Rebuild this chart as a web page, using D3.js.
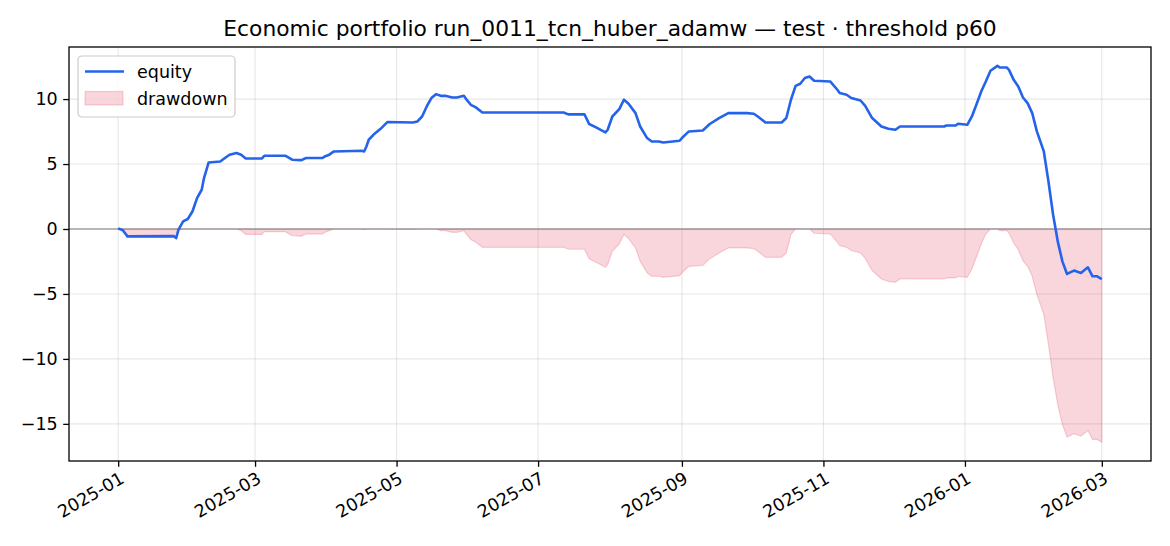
<!DOCTYPE html>
<html>
<head>
<meta charset="utf-8">
<script src="https://cdn.jsdelivr.net/npm/d3@7"></script>
<style>
  body { margin: 0; background: #fff; }
  text { font-family: "DejaVu Sans", sans-serif; }
</style>
</head>
<body>
<div id="chart"></div>
<script>
const title = "Economic portfolio run_0011_tcn_huber_adamw — test · threshold p60";
const seriesNames = ["equity", "drawdown"];

const dates = [
  "2025-01-01","2025-01-03","2025-01-05","2025-01-25","2025-01-26","2025-01-27","2025-01-29","2025-01-31",
  "2025-02-02","2025-02-04","2025-02-06","2025-02-07","2025-02-09","2025-02-14","2025-02-16","2025-02-18",
  "2025-02-21","2025-02-23","2025-02-25","2025-03-04","2025-03-05","2025-03-14","2025-03-17","2025-03-21",
  "2025-03-23","2025-03-30","2025-03-31","2025-04-02","2025-04-04","2025-04-16","2025-04-17","2025-04-18",
  "2025-04-19","2025-04-21","2025-04-24","2025-04-27","2025-05-08","2025-05-10","2025-05-12","2025-05-14",
  "2025-05-16","2025-05-18","2025-05-20","2025-05-22","2025-05-25","2025-05-27","2025-05-30","2025-05-31",
  "2025-06-02","2025-06-04","2025-06-07","2025-07-12","2025-07-14","2025-07-21","2025-07-22","2025-07-23",
  "2025-07-26","2025-07-30","2025-07-31","2025-08-02","2025-08-05","2025-08-07","2025-08-09","2025-08-12",
  "2025-08-14","2025-08-17","2025-08-19","2025-08-22","2025-08-24","2025-08-31","2025-09-01","2025-09-04",
  "2025-09-10","2025-09-13","2025-09-17","2025-09-21","2025-09-29","2025-10-02","2025-10-04","2025-10-07",
  "2025-10-14","2025-10-16","2025-10-18","2025-10-20","2025-10-22","2025-10-24","2025-10-26","2025-10-28",
  "2025-11-04","2025-11-07","2025-11-08","2025-11-11","2025-11-13","2025-11-17","2025-11-19","2025-11-22",
  "2025-11-26","2025-11-29","2025-12-02","2025-12-04","2025-12-23","2025-12-24","2025-12-28","2025-12-29",
  "2026-01-02","2026-01-04","2026-01-07","2026-01-08","2026-01-10","2026-01-12","2026-01-15","2026-01-16",
  "2026-01-19","2026-01-20","2026-01-22","2026-01-24","2026-01-26","2026-01-28","2026-01-30","2026-02-01",
  "2026-02-04","2026-02-06","2026-02-08","2026-02-10","2026-02-12","2026-02-14","2026-02-17","2026-02-20",
  "2026-02-23","2026-02-25","2026-02-27","2026-03-01"
];

const equity = [
  0.05,-0.10,-0.57,-0.55,-0.70,-0.05,0.58,0.77,
  1.35,2.38,3.02,3.92,5.12,5.20,5.46,5.72,
  5.85,5.72,5.43,5.43,5.64,5.64,5.33,5.30,
  5.46,5.46,5.58,5.72,5.97,6.02,5.97,6.35,
  6.87,7.25,7.69,8.23,8.20,8.28,8.66,9.43,
  10.08,10.38,10.25,10.25,10.12,10.12,10.25,10.00,
  9.56,9.38,8.97,8.97,8.82,8.82,8.46,8.08,
  7.82,7.43,7.64,8.66,9.23,9.95,9.64,8.92,
  7.89,7.00,6.74,6.74,6.66,6.79,7.00,7.51,
  7.58,8.08,8.54,8.92,8.92,8.87,8.62,8.20,
  8.20,8.54,9.95,11.02,11.18,11.62,11.74,11.41,
  11.35,10.72,10.46,10.33,10.08,9.89,9.48,8.54,
  7.89,7.71,7.64,7.89,7.89,7.97,7.97,8.10,
  8.02,8.66,10.08,10.58,11.35,12.18,12.56,12.43,
  12.43,12.25,11.48,10.97,10.12,9.69,8.92,7.51,
  5.97,3.66,1.10,-0.95,-2.49,-3.46,-3.20,-3.38,
  -2.95,-3.64,-3.64,-3.85
];

const drawdown = [
  0,-0.15,-0.62,-0.60,-0.75,-0.10,0,0,
  0,0,0,0,0,0,0,0,
  0,-0.13,-0.42,-0.42,-0.21,-0.21,-0.52,-0.55,
  -0.39,-0.39,-0.27,-0.13,0,0,-0.05,0,
  0,0,0,0,-0.03,0,0,0,
  0,0,-0.13,-0.13,-0.26,-0.26,-0.13,-0.38,
  -0.82,-1.00,-1.41,-1.41,-1.56,-1.56,-1.92,-2.30,
  -2.56,-2.95,-2.74,-1.72,-1.15,-0.43,-0.74,-1.46,
  -2.49,-3.38,-3.64,-3.64,-3.72,-3.59,-3.38,-2.87,
  -2.80,-2.30,-1.84,-1.46,-1.46,-1.51,-1.76,-2.18,
  -2.18,-1.84,-0.43,0,0,0,0,-0.33,
  -0.39,-1.02,-1.28,-1.41,-1.66,-1.85,-2.26,-3.20,
  -3.85,-4.03,-4.10,-3.85,-3.85,-3.77,-3.77,-3.64,
  -3.72,-3.08,-1.66,-1.16,-0.39,0,0,-0.13,
  -0.13,-0.31,-1.08,-1.59,-2.44,-2.87,-3.64,-5.05,
  -6.59,-8.90,-11.46,-13.51,-15.05,-16.02,-15.76,-15.94,
  -15.51,-16.20,-16.20,-16.41
];

const xTickLabels = ["2025-01","2025-03","2025-05","2025-07","2025-09","2025-11","2026-01","2026-03"];
const yTickValues = [-15, -10, -5, 0, 5, 10];

class EquityChart {
    constructor(_config, _data) {
        this.config = {
            parentElement: _config.parentElement,
            containerWidth: _config.containerWidth || 1170,
            containerHeight: _config.containerHeight || 546,
            margin: _config.margin || {top: 47, right: 19, bottom: 85, left: 69}
        };
        this.data = _data;
        this.initVis();
    }

    initVis() {
        let vis = this;

        vis.width = vis.config.containerWidth - vis.config.margin.left - vis.config.margin.right;
        vis.height = vis.config.containerHeight - vis.config.margin.top - vis.config.margin.bottom;

        vis.svg = d3.select(vis.config.parentElement)
            .append('svg')
            .attr('width', vis.config.containerWidth)
            .attr('height', vis.config.containerHeight);

        vis.chart = vis.svg.append('g')
            .attr('transform', `translate(${vis.config.margin.left},${vis.config.margin.top})`);

        vis.xScale = d3.scaleTime().range([0, vis.width]);
        vis.yScale = d3.scaleLinear().range([vis.height, 0]);

        vis.xAxis = d3.axisBottom(vis.xScale)
            .tickFormat(d3.timeFormat('%Y-%m'))
            .tickSize(5.8)
            .tickSizeOuter(0);

        vis.yAxis = d3.axisLeft(vis.yScale)
            .tickValues(yTickValues)
            .tickFormat(d3.format('d'))
            .tickSize(5.8)
            .tickPadding(5.5)
            .tickSizeOuter(0);

        vis.updateVis();
    }

    updateVis() {
        let vis = this;
        const parse = d3.timeParse('%Y-%m-%d');
        vis.points = vis.data.dates.map((d, i) => ({
            date: parse(d),
            equity: vis.data.equity[i],
            drawdown: vis.data.drawdown[i]
        }));

        // 5% margins on both axes, matplotlib style
        const xExt = d3.extent(vis.points, d => d.date);
        const xPad = (xExt[1] - xExt[0]) * 0.05;
        vis.xScale.domain([new Date(+xExt[0] - xPad), new Date(+xExt[1] + xPad)]);

        const yMin = d3.min(vis.points, d => Math.min(d.equity, d.drawdown));
        const yMax = d3.max(vis.points, d => Math.max(d.equity, d.drawdown));
        const yPad = (yMax - yMin) * 0.05;
        vis.yScale.domain([yMin - yPad, yMax + yPad]);

        vis.xTicks = xTickLabels.map(d3.timeParse('%Y-%m'));
        vis.xAxis.tickValues(vis.xTicks);

        vis.renderVis();
    }

    renderVis() {
        let vis = this;

        // grid
        vis.chart.append('g').selectAll('line')
            .data(vis.xTicks)
            .join('line')
            .attr('x1', d => vis.xScale(d)).attr('x2', d => vis.xScale(d))
            .attr('y1', 0).attr('y2', vis.height)
            .attr('stroke', '#b0b0b0').attr('stroke-opacity', 0.3).attr('stroke-width', 1.1);

        vis.chart.append('g').selectAll('line')
            .data(yTickValues)
            .join('line')
            .attr('x1', 0).attr('x2', vis.width)
            .attr('y1', d => vis.yScale(d)).attr('y2', d => vis.yScale(d))
            .attr('stroke', '#b0b0b0').attr('stroke-opacity', 0.3).attr('stroke-width', 1.1);

        // drawdown area
        const area = d3.area()
            .x(d => vis.xScale(d.date))
            .y0(vis.yScale(0))
            .y1(d => vis.yScale(d.drawdown));

        vis.chart.append('path')
            .datum(vis.points)
            .attr('d', area)
            .attr('fill', 'crimson').attr('fill-opacity', 0.18)
            .attr('stroke', 'crimson').attr('stroke-opacity', 0.18).attr('stroke-width', 1.2);

        // zero line
        vis.chart.append('line')
            .attr('x1', 0).attr('x2', vis.width)
            .attr('y1', vis.yScale(0)).attr('y2', vis.yScale(0))
            .attr('stroke', 'gray').attr('stroke-opacity', 0.7).attr('stroke-width', 1.3);

        // equity line
        const line = d3.line()
            .x(d => vis.xScale(d.date))
            .y(d => vis.yScale(d.equity));

        vis.chart.append('path')
            .datum(vis.points)
            .attr('d', line)
            .attr('fill', 'none')
            .attr('stroke', '#2563eb')
            .attr('stroke-width', 2.6)
            .attr('stroke-linejoin', 'round');

        // axes
        const xg = vis.chart.append('g')
            .attr('transform', `translate(0,${vis.height})`)
            .call(vis.xAxis);
        xg.select('.domain').remove();
        xg.selectAll('line').attr('stroke-width', 1.3);
        xg.selectAll('text')
            .attr('x', 0).attr('y', 0)
            .attr('dy', '0.78em')
            .attr('text-anchor', 'end')
            .attr('transform', 'translate(0,9) rotate(-30)')
            .style('font-size', '17.5px')
            .attr('fill', '#000');

        const yg = vis.chart.append('g').call(vis.yAxis);
        yg.select('.domain').remove();
        yg.selectAll('line').attr('stroke-width', 1.3);
        yg.selectAll('text').style('font-size', '17.5px').attr('fill', '#000');

        // frame
        vis.chart.append('rect')
            .attr('width', vis.width).attr('height', vis.height)
            .attr('fill', 'none').attr('stroke', '#000').attr('stroke-width', 1.3);

        // title
        vis.svg.append('text')
            .attr('x', vis.config.margin.left + vis.width / 2)
            .attr('y', vis.config.margin.top - 11)
            .attr('text-anchor', 'middle')
            .style('font-size', '21.8px')
            .text(title);

        // legend
        const legend = vis.chart.append('g').attr('transform', 'translate(9,9)');
        legend.append('rect')
            .attr('width', 157).attr('height', 61).attr('rx', 4)
            .attr('fill', '#fff').attr('fill-opacity', 0.8)
            .attr('stroke', '#ccc').attr('stroke-width', 1.2);
        legend.append('line')
            .attr('x1', 7).attr('x2', 46).attr('y1', 15.5).attr('y2', 15.5)
            .attr('stroke', '#2563eb').attr('stroke-width', 2.6);
        legend.append('rect')
            .attr('x', 7).attr('y', 35.5).attr('width', 38).attr('height', 13.5)
            .attr('fill', 'crimson').attr('fill-opacity', 0.18)
            .attr('stroke', 'crimson').attr('stroke-opacity', 0.18).attr('stroke-width', 1.2);
        legend.selectAll('.legend-text')
            .data(seriesNames)
            .join('text')
            .attr('class', 'legend-text')
            .attr('x', 59)
            .attr('y', (d, i) => 15.5 + i * 27)
            .attr('dy', '0.35em')
            .style('font-size', '17.5px')
            .text(d => d);
    }
}

new EquityChart({parentElement: '#chart'}, {dates: dates, equity: equity, drawdown: drawdown});
</script>
</body>
</html>
